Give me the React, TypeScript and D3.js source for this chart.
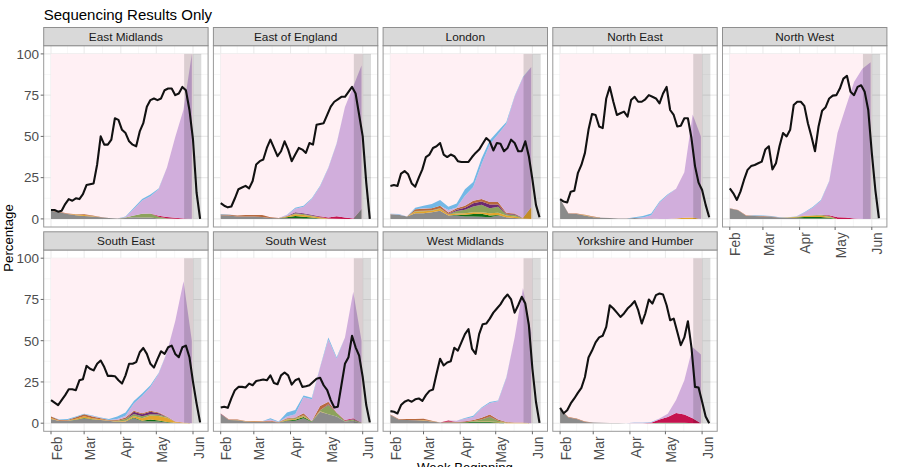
import React from 'react';
import * as d3 from 'd3';

// region facets, in plotting order
const tickMonths = ['Feb', 'Mar', 'Apr', 'May', 'Jun'];
const tickDays = [0, 28, 59, 89, 120];
const minorDays = [14, 43.5, 74, 104.5];
const yTicks = [0, 25, 50, 75, 100];
const yMinor = [12.5, 37.5, 62.5, 87.5];
const lineStepDays = 3;
const weekStepDays = 7;

// stack order, bottom to top
const lineages = ['grey', 'green', 'gold', 'olive', 'plum', 'rust', 'crimson', 'lilac', 'blue'];
const lineageColours: Record<string, string> = {
  grey: '#8b8b8b',
  green: '#0e6e14',
  gold: '#e2a52c',
  olive: '#8ca25c',
  plum: '#6c2a72',
  rust: '#b8693d',
  crimson: '#c5124f',
  lilac: '#d1aedc',
  blue: '#73b8e6',
};

// East Midlands
const emLine = [5.4, 5.4, 4.4, 5, 9, 12, 11, 12.5, 12, 15, 20.5, 21, 21.5, 33, 50, 45, 45, 48, 61, 60, 54, 52, 47, 45, 44, 53, 58, 68, 72, 73, 72, 73, 78, 79, 79, 75, 76, 80, 78, 66, 48, 16, 0];
const emGrey = [5, 4, 3, 2.2, 1.8, 1.5, 1, 0.5, 0.2, 0.6, 1, 0.8, 0.8, 0.3, 0.2, 0.1, 0, 0];
const emGold = [0, 0, 0, 0.4, 0.6, 0.2, 0, 0, 0, 0, 0, 0, 0, 0, 0, 0, 0, 0];
const emOlive = [0, 0, 0, 0, 0, 0, 0, 0, 0, 0.3, 1, 2.3, 2.5, 1, 0.2, 0, 0, 0];
const emRust = [0.3, 0.3, 0.2, 0.2, 0.4, 0.3, 0.2, 0, 0, 0, 0, 0, 0, 0, 0, 0, 0, 0];
const emCrimson = [0, 0, 0, 0, 0, 0, 0, 0, 0, 0, 0, 0, 0, 0.6, 0.8, 0.6, 0.3, 0];
const emLilac = [0, 0, 0, 0, 0, 0, 0, 0, 0, 0.3, 4, 8, 10.5, 16, 30, 49, 66, 100];
const emBlue = [0, 0, 0, 0, 0, 0, 0, 0, 0, 0.2, 0.7, 1, 1, 0.5, 0, 0, 0, 0];

// East of England
const eeLine = [9.5, 8, 7, 7.5, 12.5, 18, 19, 20, 18.5, 23, 33, 35, 36, 43, 48, 43, 38, 41, 47, 42, 35, 39, 43, 42, 40, 46, 45, 57, 57.5, 58, 63, 68, 71, 72.5, 74, 74, 77, 80, 76, 63, 50, 22, 0];
const eeGrey = [2.2, 2, 1.5, 1.5, 1.5, 1.2, 0.6, 0.4, 0.5, 0.5, 0.3, 0.3, 0.2, 0.1, 0.1, 0, 0, 6];
const eeGreen = [0, 0, 0, 0, 0, 0, 0, 0, 0.5, 1.3, 1, 0.5, 0, 0, 0, 0, 0, 0];
const eeGold = [0, 0, 0, 0, 0, 0, 0, 0, 0.6, 1, 1, 0.8, 0.8, 0.2, 0, 0, 0, 0];
const eeOlive = [0, 0, 0, 0, 0, 0, 0, 0, 0, 0.7, 0.6, 0.5, 0, 0, 0, 0, 0, 0];
const eePlum = [0, 0, 0, 0, 0, 0, 0, 0, 0.2, 0.6, 0.5, 0.4, 0.3, 0, 0, 0, 0, 0];
const eeRust = [0.5, 0.5, 0.5, 0.8, 0.8, 1.2, 0.4, 0.2, 0, 0, 0, 0, 0, 0, 0, 0, 0, 0];
const eeCrimson = [0, 0, 0, 0, 0, 0, 0, 0, 0, 0, 0, 0, 0.3, 0.6, 1.5, 0.8, 0.3, 0];
const eeLilac = [0, 0, 0, 0, 0, 0, 0, 0, 0.5, 2, 4, 9.5, 18, 30, 44, 67, 80, 87];
const eeBlue = [0.2, 0.2, 0, 0, 0, 0, 0, 0, 0.2, 0.7, 0.6, 0.5, 0.5, 0.3, 0.2, 0, 0, 0];

// London
const ldLine = [20, 20.5, 20, 27.5, 29, 27, 21.5, 19.5, 25, 30, 37.5, 39, 43, 44, 46, 39, 37.5, 39, 38, 35, 34.5, 34.5, 34.5, 37.5, 40, 42, 45.5, 49, 47, 41.5, 46, 45.5, 41, 43, 48, 46, 41, 41, 47, 38, 24, 8.5, 1];
const ldGrey = [2.5, 2.5, 1.5, 3.5, 3.5, 4, 5, 2, 2, 1.5, 1.5, 1.3, 1, 2, 1, 0.5, 0.2, 0];
const ldGreen = [0, 0, 0, 0, 0, 0, 0, 0, 0.5, 1, 1.5, 1.8, 1, 0.3, 0, 0, 0, 0];
const ldGold = [0, 0, 0, 1, 1.2, 1, 1.2, 0.8, 0.8, 1, 1, 1, 1.5, 1.5, 1, 1, 0.3, 7];
const ldOlive = [0, 0, 0, 0.3, 0.3, 0.3, 0.3, 0, 1.5, 2, 3.5, 4.5, 3, 3.5, 0.8, 0.8, 0.1, 0];
const ldPlum = [0, 0, 0, 0, 0, 0, 0, 0.3, 0.8, 1.2, 2, 2, 2.3, 1.5, 0.3, 0.5, 0.1, 0];
const ldRust = [0.3, 0, 0, 1, 1.2, 1.2, 1.5, 0.8, 0.8, 1.3, 1.5, 1.5, 1.4, 1.5, 0.6, 0.5, 0, 0];
const ldLilac = [0, 0.2, 0, 0, 0.3, 0, 0, 1.5, 0.5, 6, 8.3, 21, 35, 41, 54, 70.7, 85, 85];
const ldBlue = [0.3, 0.3, 0, 1, 1.5, 2.5, 3.5, 2, 2.5, 4, 3, 3.5, 2.5, 2, 1, 0.5, 0.3, 0];

// North East
const neLine = [12, 10.5, 10, 16.5, 17, 27.7, 32.7, 40, 54, 63.6, 63, 56, 55, 73, 80, 71, 63, 64, 65, 62, 72, 74, 71, 71, 72.5, 75, 74, 73, 70, 76, 80, 66, 63, 56, 56.5, 61, 61, 49, 32, 22, 17.5, 8.5, 1];
const neGrey = [12, 3.2, 3, 2, 1, 0.7, 0.5, 0.3, 0.3, 0.5, 0.3, 0.2, 0, 0, 0, 0, 0, 0];
const neGold = [0, 0, 0, 0.3, 0.2, 0, 0, 0, 0, 0, 0, 0, 0, 0, 0.3, 0.7, 0.8, 0];
const neRust = [0, 0.2, 0.3, 0.2, 0.2, 0, 0, 0, 0, 0, 0, 0, 0, 0, 0, 0, 0, 0];
const neLilac = [0, 0, 0, 0, 0, 0, 0, 0, 0, 0, 0.5, 2, 10, 14.5, 18, 27.5, 62.5, 50];
const neBlue = [0, 0, 0, 0, 0, 0, 0, 0, 0, 0.5, 1, 1, 0.6, 0.4, 0, 0, 0, 0];

// North West
const nwLine = [18.5, 15.5, 11.5, 16.5, 23.6, 29.7, 32, 32.7, 33.7, 34.7, 42, 44, 30, 33.7, 44, 52, 50, 54, 69, 71, 71, 68.5, 58, 50, 41, 56, 65.6, 67.7, 73, 74.7, 75, 79, 85, 86.7, 77, 75, 80, 81, 77, 66, 40, 17.5, 0.5];
const nwGrey = [6.3, 5.2, 1.8, 1.7, 1.5, 1.2, 0.8, 0.5, 0.5, 0.3, 0.2, 0.2, 0.2, 0, 0, 0, 0, 0];
const nwGreen = [0, 0, 0, 0, 0, 0, 0, 0, 0.3, 0.8, 1, 1, 0.5, 0, 0, 0, 0, 0];
const nwGold = [0, 0, 0, 0, 0, 0, 0, 0.3, 0.5, 0.6, 0.7, 0.8, 0.5, 0, 0, 0, 0, 0];
const nwOlive = [0, 0, 0, 0, 0, 0, 0, 0, 0, 0.2, 0.3, 0.5, 0.5, 0, 0, 0, 0, 0];
const nwRust = [0.2, 0.2, 0.2, 0.2, 0.3, 0.3, 0, 0, 0, 0, 0, 0, 0, 0, 0, 0, 0, 0];
const nwCrimson = [0, 0, 0, 0, 0, 0, 0, 0, 0, 0, 0, 0, 0.5, 1, 0.8, 0.3, 0, 0];
const nwLilac = [0, 0, 0, 0, 0, 0, 0, 0, 0, 1.8, 4.5, 8.5, 20.5, 51, 66.9, 82.7, 91, 95];
const nwBlue = [0, 0, 0, 0.3, 0.3, 0.3, 0.2, 0.2, 0.2, 0.4, 0.5, 0.4, 0.3, 0, 0, 0, 0, 0];

// South East
const seLine = [14, 12.5, 11, 14, 17, 20.6, 20.6, 20, 26, 26.7, 34.7, 33, 32, 36, 38, 34, 28.7, 28.7, 28.5, 26, 24, 29, 36, 36, 37, 43, 45.6, 42, 36, 33.7, 38.8, 43.6, 42, 46, 47, 42, 40, 46, 47, 40, 25, 12, 0.5];
const seGrey = [2.5, 1.3, 1.5, 2, 2.8, 2.3, 2, 1.5, 0.8, 1, 3, 1.2, 1.2, 1, 0.5, 0.2, 0, 0];
const seGreen = [0, 0, 0, 0.1, 0.4, 0.1, 0, 0, 0, 0, 0.4, 0.3, 1, 0.6, 0.2, 0, 0, 0];
const seGold = [0.6, 0.2, 0.2, 0.6, 1, 0.6, 0.4, 0.2, 0.2, 0.5, 1, 1.5, 2.5, 2.8, 2.6, 0.6, 0.3, 0];
const seOlive = [0, 0, 0, 0, 0, 0, 0, 0, 0.5, 1, 1.2, 1.2, 0.8, 0.8, 0.4, 0, 0, 0];
const sePlum = [0, 0, 0, 0, 0, 0, 0, 0, 0, 0.1, 1.4, 1.2, 1.5, 0.8, 0.1, 0, 0, 0];
const seRust = [0.9, 0.5, 0.3, 0.9, 1.3, 1.1, 0.6, 0.3, 0.5, 0.9, 0.5, 0.6, 0.5, 0.5, 0.2, 0.2, 0.1, 0];
const seLilac = [0, 0, 0, 0, 0, 0.2, 0.2, 0, 0.5, 1, 4.5, 10.5, 14.5, 23.5, 38.8, 61, 85.6, 50];
const seBlue = [0, 0.2, 0.5, 0.5, 0.2, 0.3, 0.3, 0.5, 1.5, 2, 1.5, 1.5, 1, 0.5, 0.2, 0, 0, 0];

// South West
const swLine = [9.5, 10, 9.3, 15, 20, 22, 22, 21.6, 24, 23, 25.6, 26, 26.5, 26, 29, 24.4, 23.6, 29, 30.7, 29, 23.4, 26, 27, 22, 22.4, 23, 25, 27, 27.5, 23, 20, 14, 9.5, 10, 23, 36, 40, 53, 46, 41, 28, 11, 0.5];
const swGrey = [5.5, 2, 1.8, 1, 0.8, 0.8, 1, 0.5, 1.3, 1.5, 3, 0.8, 7, 5.5, 4, 1, 1.5, 0];
const swGreen = [0, 0, 0, 0, 0, 0, 0, 0, 0.3, 0.6, 0.8, 0.2, 0, 0, 0, 0, 0, 0];
const swGold = [0, 0, 0.2, 0.2, 0.3, 0.1, 0, 0, 0.6, 0.5, 0.5, 0, 0.3, 0, 0, 0, 0, 0];
const swOlive = [0, 0, 0, 0, 0, 0, 0, 0, 0.3, 0.5, 0.5, 0.2, 0.5, 5.5, 2.3, 0.5, 0.8, 0.3];
const swPlum = [0.2, 0, 0, 0, 0, 0, 0, 0, 0, 0, 0, 0, 0, 0.5, 0, 0, 0.3, 0];
const swRust = [0.2, 0.3, 0.2, 0.2, 0.2, 0.3, 0.5, 0.3, 0.5, 0.4, 1.3, 0.1, 2.7, 1.5, 0.2, 0, 0, 0];
const swCrimson = [0, 0, 0, 0, 0, 0, 0, 0, 0, 0, 0, 0, 0, 0, 0, 0.5, 0.4, 0];
const swLilac = [0, 0, 0, 0, 0, 0, 0.8, 0, 1, 2, 9.7, 13.2, 23.3, 37.8, 32.7, 50, 76.6, 49.7];
const swBlue = [0, 0, 0, 0, 0, 0, 0.7, 0.2, 2.5, 2.5, 1, 1, 0.2, 1.2, 0.8, 0, 0, 0];

// West Midlands
const wmLine = [7.3, 6.9, 5.9, 11, 13, 14, 13, 14.5, 15, 13.5, 17, 19.6, 20.4, 30, 39, 35, 36.8, 37.6, 45.7, 44, 49, 54, 57, 45, 42, 54, 60, 60.4, 63.4, 67, 69.5, 72, 75.6, 78, 75, 67, 71.5, 76.6, 72.5, 59.4, 33, 13, 0.2];
const wmGrey = [5, 2.3, 2, 1.8, 1.6, 1, 0.4, 0.6, 0.4, 0.3, 0.2, 0.2, 0.2, 0.1, 0, 0, 0, 0];
const wmGreen = [0, 0, 0, 0, 0, 0, 0, 0, 0, 0.3, 0.7, 0.5, 0.5, 0.4, 0, 0, 0, 0];
const wmGold = [0, 0, 0, 0, 0.4, 0.2, 0, 0, 0, 0, 0.2, 0.4, 0.4, 0.2, 0.3, 0.2, 0.2, 0];
const wmOlive = [0, 0, 0, 0, 0, 0, 0, 0, 0, 0, 0.3, 1.2, 2.7, 0.8, 0.2, 0, 0, 0];
const wmPlum = [0, 0, 0, 0, 0, 0, 0, 0, 0, 0, 0, 0, 0.2, 0, 0, 0, 0, 0];
const wmRust = [0.2, 0.3, 0.5, 0.7, 0.7, 0.3, 0.1, 0.4, 0.3, 0.4, 0.6, 1, 1.3, 0.8, 0.3, 0.2, 0.2, 0];
const wmCrimson = [0, 0, 0, 0, 0, 0, 0, 0.7, 0.1, 0.2, 0, 0, 0, 0, 0, 0, 0, 0];
const wmLilac = [0, 0, 0, 0, 0, 0, 0, 0, 0.7, 1.5, 1.8, 5.7, 6.9, 11, 26.6, 51.5, 81.5, 55];
const wmBlue = [0, 0, 0, 0, 0, 0, 0, 0, 0, 0.5, 0.7, 0.5, 0.6, 0.5, 0.4, 0, 0, 0];

// Yorkshire and Humber
const yhLine = [9.3, 6, 7.9, 12, 15, 18.4, 21.4, 28, 39.8, 44, 49, 52, 53, 58.4, 71.5, 69.5, 67, 64.4, 66.5, 69.5, 71.5, 74, 68.5, 60.4, 66.5, 75, 72.5, 77.6, 78.6, 78, 71.5, 62.4, 63.4, 55.4, 47.3, 52, 61.8, 46, 22, 21.6, 13, 4, 0];
const yhGrey = [8.8, 3.5, 2.5, 0.8, 0.4, 0.2, 0.1, 0.1, 0, 0, 0, 0, 0, 0, 0, 0, 0, 0];
const yhGreen = [0, 0, 0, 0, 0, 0, 0, 0, 0, 0, 0, 0, 0.2, 0.2, 0.2, 0.2, 0, 0];
const yhRust = [0, 0.3, 0.4, 0.3, 0, 0, 0, 0, 0, 0, 0, 0, 0, 0, 0, 0, 0, 0];
const yhCrimson = [0, 0, 0, 0, 0, 0, 0, 0, 0, 0, 0, 0.3, 2, 3.5, 6, 5, 3, 0];
const yhLilac = [0, 0, 0, 0, 0, 0, 0, 0, 0, 0.2, 0.2, 0.2, 0.7, 2, 7.8, 20.8, 43, 41.6];
const yhBlue = [0, 0, 0, 0, 0, 0, 0, 0, 0, 0.2, 0.2, 0.2, 0, 0, 0, 0, 0, 0];

const regions = [
  { name: 'East Midlands', line: emLine, areas: { grey: emGrey, gold: emGold, olive: emOlive, rust: emRust, crimson: emCrimson, lilac: emLilac, blue: emBlue } },
  { name: 'East of England', line: eeLine, areas: { grey: eeGrey, green: eeGreen, gold: eeGold, olive: eeOlive, plum: eePlum, rust: eeRust, crimson: eeCrimson, lilac: eeLilac, blue: eeBlue } },
  { name: 'London', line: ldLine, areas: { grey: ldGrey, green: ldGreen, gold: ldGold, olive: ldOlive, plum: ldPlum, rust: ldRust, lilac: ldLilac, blue: ldBlue } },
  { name: 'North East', line: neLine, areas: { grey: neGrey, gold: neGold, rust: neRust, lilac: neLilac, blue: neBlue } },
  { name: 'North West', line: nwLine, areas: { grey: nwGrey, green: nwGreen, gold: nwGold, olive: nwOlive, rust: nwRust, crimson: nwCrimson, lilac: nwLilac, blue: nwBlue } },
  { name: 'South East', line: seLine, areas: { grey: seGrey, green: seGreen, gold: seGold, olive: seOlive, plum: sePlum, rust: seRust, lilac: seLilac, blue: seBlue } },
  { name: 'South West', line: swLine, areas: { grey: swGrey, green: swGreen, gold: swGold, olive: swOlive, plum: swPlum, rust: swRust, crimson: swCrimson, lilac: swLilac, blue: swBlue } },
  { name: 'West Midlands', line: wmLine, areas: { grey: wmGrey, green: wmGreen, gold: wmGold, olive: wmOlive, plum: wmPlum, rust: wmRust, crimson: wmCrimson, lilac: wmLilac, blue: wmBlue } },
  { name: 'Yorkshire and Humber', line: yhLine, areas: { grey: yhGrey, green: yhGreen, rust: yhRust, crimson: yhCrimson, lilac: yhLilac, blue: yhBlue } },
];

const FONT = '"Liberation Sans", Arial, sans-serif';
const panelW = 164.4;
const panelH = 181.3;
const stepX = 169.7;
const left = 43.7;
const rowTops = [45.7, 250];
const stripH = 18.2;
const perRow = 5;

const x = d3.scaleLinear().domain([0, 120]).range([7.3, 149.3]);
const y = d3.scaleLinear().domain([0, 100]).range([173.2, 8.2]);

interface Region {
  name: string;
  line: number[];
  areas: Record<string, number[]>;
}

const Panel = ({ region, index }: { region: Region; index: number }) => {
  const col = index % perRow;
  const row = Math.floor(index / perRow);
  const showY = col === 0;
  // last facet of a column carries the date axis
  const showX = row === 1 || col === 4;

  const weeks = region.areas.lilac.map((_, w) => {
    const d: Record<string, number> = { day: w * weekStepDays };
    lineages.forEach((k) => {
      d[k] = region.areas[k] ? region.areas[k][w] : 0;
    });
    return d;
  });
  const layers = d3.stack<Record<string, number>>().keys(lineages)(weeks);
  const area = d3
    .area<d3.SeriesPoint<Record<string, number>>>()
    .x((d) => x(d.data.day))
    .y0((d) => y(d[0]))
    .y1((d) => y(d[1]));
  const line = d3
    .line<number>()
    .x((_, i) => x(i * lineStepDays))
    .y((d) => y(d));

  return (
    <g transform={`translate(${left + col * stepX},${rowTops[row]})`}>
      <rect width={panelW} height={panelH} fill="#fff" />
      {minorDays.map((d) => (
        <line key={d} x1={x(d)} x2={x(d)} y2={panelH} stroke="#f3f3f3" strokeWidth={0.7} />
      ))}
      {yMinor.map((v) => (
        <line key={v} y1={y(v)} y2={y(v)} x2={panelW} stroke="#f3f3f3" strokeWidth={0.7} />
      ))}
      {tickDays.map((d) => (
        <line key={d} x1={x(d)} x2={x(d)} y2={panelH} stroke="#ebebeb" strokeWidth={1.1} />
      ))}
      {yTicks.map((v) => (
        <line key={v} y1={y(v)} y2={y(v)} x2={panelW} stroke="#ebebeb" strokeWidth={1.1} />
      ))}
      <rect x={x(0)} y={y(100)} width={x(120) - x(0)} height={y(0) - y(100)} fill="#fff0f4" />
      {layers.map((s) => (
        <path key={s.key} d={area(s) ?? ''} fill={lineageColours[s.key]} />
      ))}
      <rect x={x(112.5)} y={y(100)} width={x(127) - x(112.5)} height={y(0) - y(100)} fill="#000" fillOpacity={0.14} />
      <path d={line(region.line) ?? ''} fill="none" stroke="#111" strokeWidth={2.1} strokeLinejoin="round" />
      <rect width={panelW} height={panelH} fill="none" stroke="#9a9a9a" strokeWidth={1} />

      <rect y={-stripH} width={panelW} height={stripH} fill="#d9d9d9" stroke="#8f8f8f" strokeWidth={1} />
      <text x={panelW / 2} y={-stripH / 2 + 4} textAnchor="middle" fontSize={11.8} fill="#1a1a1a" fontFamily={FONT}>
        {region.name}
      </text>

      {showY &&
        yTicks.map((v) => (
          <g key={v} transform={`translate(0,${y(v)})`}>
            <line x1={-3} stroke="#666" strokeWidth={1} />
            <text x={-4.6} y={4.8} textAnchor="end" fontSize={13.5} fill="#4d4d4d" fontFamily={FONT}>
              {v}
            </text>
          </g>
        ))}
      {showX &&
        tickDays.map((d, i) => (
          <g key={d}>
            <line x1={x(d)} x2={x(d)} y1={panelH} y2={panelH + 3} stroke="#666" strokeWidth={1} />
            <text
              transform={`translate(${x(d) + 10.6},${panelH + 5.2}) rotate(-90)`}
              textAnchor="end"
              fontSize={13.8}
              fill="#4d4d4d"
              fontFamily={FONT}
            >
              {tickMonths[i]}
            </text>
          </g>
        ))}
    </g>
  );
};

export default function App() {
  return (
    <svg width={899} height={467} style={{ position: 'absolute', left: 0, top: 0 }}>
      <rect width={899} height={467} fill="#fff" />
      <text x={43.7} y={19.5} fontSize={15} fill="#000" fontFamily={FONT}>
        Sequencing Results Only
      </text>
      {regions.map((r, i) => (
        <Panel key={r.name} region={r as Region} index={i} />
      ))}
      <text transform="translate(13,238) rotate(-90)" textAnchor="middle" fontSize={13.2} fill="#000" fontFamily={FONT}>
        Percentage
      </text>
      <text x={465} y={472} textAnchor="middle" fontSize={13.2} fill="#000" fontFamily={FONT}>
        Week Beginning
      </text>
    </svg>
  );
}
